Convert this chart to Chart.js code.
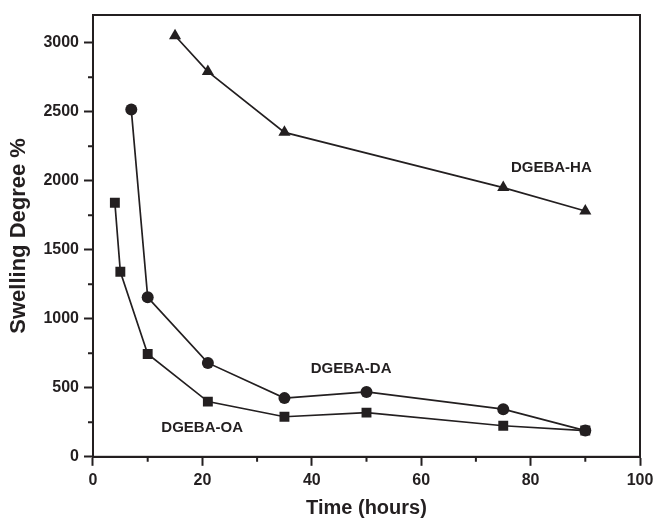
<!DOCTYPE html>
<html>
<head>
<meta charset="utf-8">
<script src="https://cdn.jsdelivr.net/npm/chart.js@4.4.0/dist/chart.umd.min.js"></script>
<style>
  html, body { margin: 0; padding: 0; background: #fff; }
  #wrap { width: 655px; height: 520px; }
</style>
</head>
<body>
<div id="wrap"><canvas id="myChart" width="655" height="520"></canvas></div>
<script>
// data
const oa_time = [4, 5, 10, 21, 35, 50, 75, 90];
const oa_swell = [1840, 1340, 745, 400, 290, 320, 225, 190];
const da_time = [7, 10, 21, 35, 50, 75, 90];
const da_swell = [2515, 1155, 680, 425, 470, 345, 190];
const ha_time = [15, 21, 35, 75, 90];
const ha_swell = [3050, 2790, 2350, 1950, 1780];

const x_ticks = [0, 20, 40, 60, 80, 100];
const y_ticks = [0, 500, 1000, 1500, 2000, 2500, 3000];

const label_texts = ['DGEBA-HA', 'DGEBA-DA', 'DGEBA-OA'];
const label_x = [76.4, 39.8, 12.5];
const label_y = [2090, 640, 213];

const ink = '#231f20';
const font_family = '"Liberation Sans", Arial, sans-serif';

function to_points(xs, ys){
    let pts = [];
    for (let i = 0; i < xs.length; i++){
        pts.push({x: xs[i], y: ys[i]});
    }
    return pts;
}

function make_dataset(name, xs, ys, style, radius){
    return {
        label: name,
        data: to_points(xs, ys),
        borderColor: ink,
        backgroundColor: ink,
        borderWidth: 1.7,
        pointStyle: style,
        pointRadius: radius,
        pointBorderWidth: 0,
        pointHoverRadius: radius,
        showLine: true,
        tension: 0
    };
}

function axis_options(tick_values, lo, hi, title, title_size, title_pad){
    return {
        type: 'linear',
        min: lo,
        max: hi,
        afterBuildTicks: function(scale){
            scale.ticks = tick_values.map(v => ({value: v}));
        },
        afterFit: function(scale){
            // the outer frame already leaves room for the end labels
            scale.paddingRight = 0;
        },
        border: {display: true, color: ink, width: 2},
        grid: {
            display: true,
            drawOnChartArea: false,
            drawTicks: true,
            tickLength: 9,
            tickWidth: 2,
            tickColor: ink
        },
        ticks: {
            padding: 5,
            color: ink,
            maxRotation: 0,
            autoSkip: false,
            callback: function(value){ return String(value); },
            font: {family: font_family, size: 16, weight: 'bold'}
        },
        title: {
            display: true,
            text: title,
            color: ink,
            padding: title_pad,
            font: {family: font_family, size: title_size, weight: 'bold'}
        }
    };
}

// frame, minor ticks and in-plot labels
const extras = {
    id: 'extras',
    afterDraw(chart){
        const ctx = chart.ctx;
        const area = chart.chartArea;
        const xs = chart.scales.x;
        const ys = chart.scales.y;
        ctx.save();
        ctx.strokeStyle = ink;
        ctx.lineWidth = 2;
        ctx.strokeRect(area.left, area.top, area.right - area.left, area.bottom - area.top);

        ctx.beginPath();
        for (let v = 10; v < 100; v += 20){
            const px = xs.getPixelForValue(v);
            ctx.moveTo(px, area.bottom);
            ctx.lineTo(px, area.bottom + 5);
        }
        for (let v = 250; v < 3200; v += 500){
            const py = ys.getPixelForValue(v);
            ctx.moveTo(area.left, py);
            ctx.lineTo(area.left - 5, py);
        }
        ctx.stroke();

        ctx.fillStyle = ink;
        ctx.font = 'bold 15px ' + font_family;
        ctx.textAlign = 'left';
        ctx.textBaseline = 'middle';
        for (let i = 0; i < label_texts.length; i++){
            ctx.fillText(label_texts[i], xs.getPixelForValue(label_x[i]), ys.getPixelForValue(label_y[i]));
        }
        ctx.restore();
    }
};

const ctx = document.getElementById('myChart').getContext('2d');
const myChart = new Chart(ctx, {
    type: 'scatter',
    data: {
        datasets: [
            make_dataset('DGEBA-OA', oa_time, oa_swell, 'rect', 7),
            make_dataset('DGEBA-DA', da_time, da_swell, 'circle', 6),
            make_dataset('DGEBA-HA', ha_time, ha_swell, 'triangle', 7)
        ]
    },
    options: {
        responsive: false,
        animation: false,
        layout: {
            padding: {left: 6, right: 15, top: 15, bottom: 0}
        },
        plugins: {
            legend: {display: false},
            tooltip: {enabled: false}
        },
        scales: {
            x: axis_options(x_ticks, 0, 100, 'Time (hours)', 20, {top: 1, bottom: 0}),
            y: axis_options(y_ticks, 0, 3200, 'Swelling Degree %', 22, {top: 0, bottom: 6})
        }
    },
    plugins: [extras]
});
</script>
</body>
</html>
